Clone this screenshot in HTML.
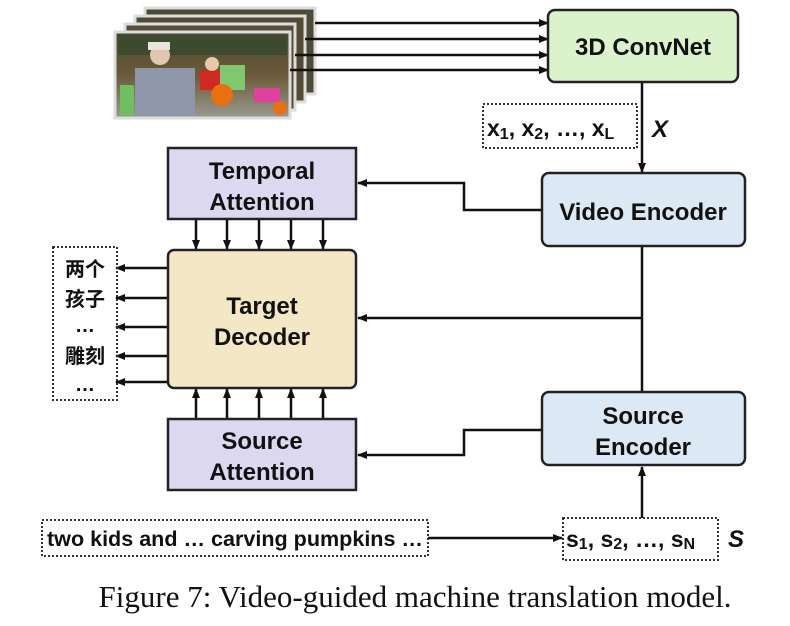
<!DOCTYPE html>
<html><head><meta charset="utf-8"><style>
body{margin:0;background:#fff;}
svg{display:block}
text{font-family:"Liberation Sans","Noto Sans CJK SC",sans-serif;font-weight:bold;fill:#111}
</style></head><body>
<svg width="790" height="626" viewBox="0 0 790 626" xmlns="http://www.w3.org/2000/svg">
<defs>
<marker id="a" markerWidth="10" markerHeight="10" refX="9" refY="5" orient="auto" markerUnits="userSpaceOnUse"><path d="M0,1 L10,5 L0,9 z" fill="#111"/></marker>
<linearGradient id="g" x1="0" y1="0" x2="0" y2="1"><stop offset="0" stop-color="#4a4a30"/><stop offset="0.5" stop-color="#6b5a3a"/><stop offset="1" stop-color="#9a9a90"/></linearGradient>
</defs>
<g stroke="#ddd" stroke-width="3">
<rect x="145" y="8" width="170" height="86" fill="#4d4a35"/>
<rect x="135" y="16" width="170" height="86" fill="#514b36"/>
<rect x="125" y="24" width="170" height="86" fill="#564d38"/>
<rect x="115" y="32" width="175" height="86" fill="url(#g)"/>
</g>
<rect x="118" y="35" width="169" height="20" fill="#3e4a2e"/>
<rect x="135" y="68" width="60" height="48" fill="#8e96a8"/>
<circle cx="160" cy="55" r="10" fill="#e0c8b0"/>
<rect x="148" y="42" width="22" height="8" fill="#e8e4dc"/>
<rect x="200" y="70" width="22" height="20" fill="#d02a20"/>
<circle cx="212" cy="64" r="7" fill="#e8c8a8"/>
<rect x="120" y="85" width="14" height="30" fill="#6cc060"/>
<rect x="220" y="65" width="25" height="25" fill="#80c870"/>
<circle cx="222" cy="95" r="11" fill="#e87010"/>
<rect x="254" y="88" width="26" height="14" fill="#e040a0"/>
<circle cx="280" cy="108" r="7" fill="#e87010"/>
<g stroke="#111" stroke-width="2.5" fill="none">
<line x1="315" y1="23" x2="548" y2="23" marker-end="url(#a)"/>
<line x1="305" y1="39" x2="548" y2="39" marker-end="url(#a)"/>
<line x1="295" y1="55" x2="548" y2="55" marker-end="url(#a)"/>
<line x1="290" y1="70" x2="548" y2="70" marker-end="url(#a)"/>
<line x1="642" y1="82" x2="642" y2="172" marker-end="url(#a)"/>
<polyline points="542,210 464,210 464,183 358,183" marker-end="url(#a)"/>
<line x1="642" y1="246" x2="642" y2="392"/>
<line x1="642" y1="318" x2="358" y2="318" marker-end="url(#a)"/>
<polyline points="542,430 464,430 464,455 358,455" marker-end="url(#a)"/>
<line x1="642" y1="518" x2="642" y2="467" marker-end="url(#a)"/>
<line x1="428" y1="538" x2="562" y2="538" marker-end="url(#a)"/>
<g>
<line x1="196" y1="220" x2="196" y2="249" marker-end="url(#a)"/>
<line x1="227" y1="220" x2="227" y2="249" marker-end="url(#a)"/>
<line x1="259" y1="220" x2="259" y2="249" marker-end="url(#a)"/>
<line x1="291" y1="220" x2="291" y2="249" marker-end="url(#a)"/>
<line x1="323" y1="220" x2="323" y2="249" marker-end="url(#a)"/>
<line x1="196" y1="418" x2="196" y2="389" marker-end="url(#a)"/>
<line x1="227" y1="418" x2="227" y2="389" marker-end="url(#a)"/>
<line x1="259" y1="418" x2="259" y2="389" marker-end="url(#a)"/>
<line x1="291" y1="418" x2="291" y2="389" marker-end="url(#a)"/>
<line x1="323" y1="418" x2="323" y2="389" marker-end="url(#a)"/>
</g>
<line x1="168" y1="268" x2="116" y2="268" marker-end="url(#a)"/>
<line x1="168" y1="298" x2="116" y2="298" marker-end="url(#a)"/>
<line x1="168" y1="327" x2="116" y2="327" marker-end="url(#a)"/>
<line x1="168" y1="356" x2="116" y2="356" marker-end="url(#a)"/>
<line x1="168" y1="382" x2="116" y2="382" marker-end="url(#a)"/>
</g>
<g stroke="#222" stroke-width="2.5">
<rect x="548" y="10" width="190" height="72" rx="7" fill="#dcf2cc"/>
<rect x="542" y="173" width="203" height="73" rx="7" fill="#dde8f5"/>
<rect x="542" y="392" width="203" height="73" rx="7" fill="#dde8f5"/>
<rect x="168" y="148" width="188" height="71" fill="#dcd8f0"/>
<rect x="168" y="419" width="188" height="71" fill="#dcd8f0"/>
<rect x="168" y="250" width="188" height="138" rx="6" fill="#f3e7c6"/>
</g>
<g stroke="#333" stroke-width="2" stroke-dasharray="2,2" fill="none">
<rect x="483" y="104" width="154" height="44"/>
<rect x="53" y="247" width="64" height="153"/>
<rect x="563" y="518" width="155" height="42"/>
<rect x="42" y="520" width="386" height="36"/>
</g>
<g font-size="24" text-anchor="middle">
<text x="643" y="55">3D ConvNet</text>
<text x="643" y="220">Video Encoder</text>
<text x="643" y="424">Source</text>
<text x="643" y="455">Encoder</text>
<text x="262" y="179">Temporal</text>
<text x="262" y="210">Attention</text>
<text x="262" y="449">Source</text>
<text x="262" y="480">Attention</text>
<text x="262" y="314">Target</text>
<text x="262" y="345">Decoder</text>
</g>
<text x="487" y="136" font-size="23" font-weight="bold">x<tspan font-size="16" dy="3">1</tspan><tspan dy="-3">, x</tspan><tspan font-size="16" dy="3">2</tspan><tspan dy="-3">, …, x</tspan><tspan font-size="16" dy="3">L</tspan></text>
<text x="652" y="137" font-size="24" font-style="italic">X</text>
<text x="566" y="547" font-size="23">s<tspan font-size="16" dy="2">1</tspan><tspan dy="-2">, s</tspan><tspan font-size="16" dy="2">2</tspan><tspan dy="-2">, …, s</tspan><tspan font-size="16" dy="2">N</tspan></text>
<text x="728" y="547" font-size="24" font-style="italic">S</text>
<text x="47" y="546" font-size="21" textLength="376" lengthAdjust="spacingAndGlyphs">two kids and … carving pumpkins …</text>
<g font-size="20" text-anchor="middle">
<text x="85" y="276">两个</text>
<text x="85" y="306">孩子</text>
<text x="85" y="332">…</text>
<text x="85" y="363">雕刻</text>
<text x="85" y="391">…</text>
</g>
<text x="415" y="607" text-anchor="middle" font-size="31" style="font-family:'Liberation Serif',serif;font-weight:normal">Figure 7: Video-guided machine translation model.</text>
</svg>
</body></html>
